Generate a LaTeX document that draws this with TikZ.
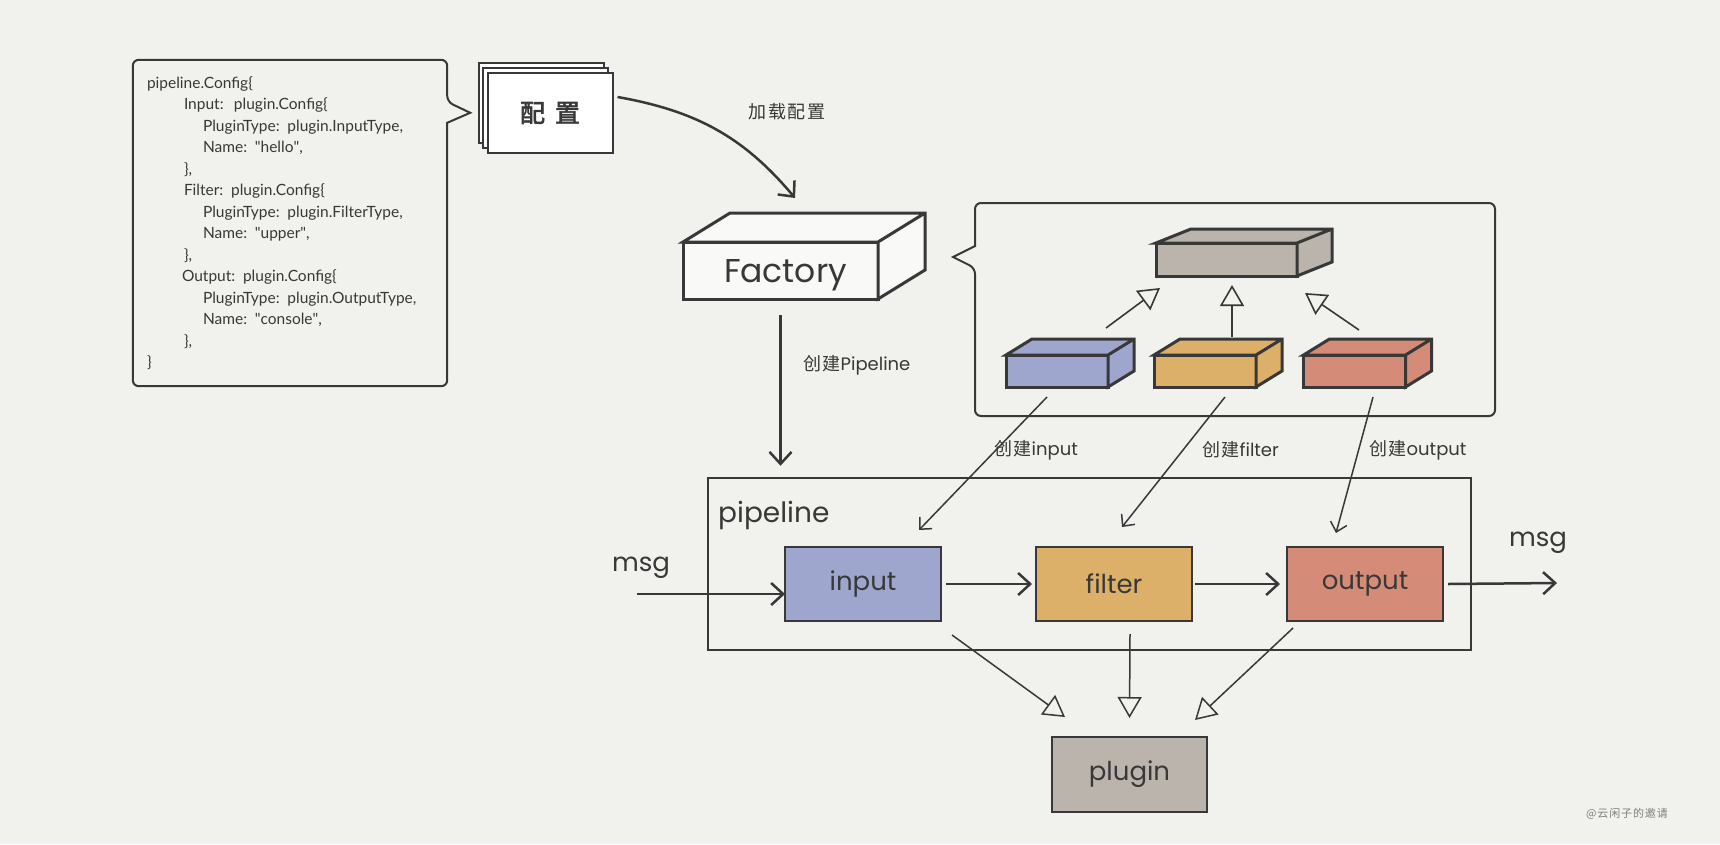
\documentclass[tikz,border=0pt]{standalone}
\usepackage{fontspec}
\setmainfont{Lato}
\newfontfamily\hand{Poppins}
\newfontfamily\cjk[LetterSpace=8]{Noto Sans CJK SC}
\newfontfamily\cjkbold[FakeBold=2.5]{Noto Sans CJK SC}
\usetikzlibrary{arrows.meta}
\usetikzlibrary{positioning}

\definecolor{paper}{HTML}{F1F1ED}
\definecolor{ink}{HTML}{383838}
\definecolor{inblue}{HTML}{9FA6CE}
\definecolor{florange}{HTML}{DDB069}
\definecolor{outred}{HTML}{D48B78}
\definecolor{pluggray}{HTML}{BBB4AC}

\begin{document}
\begin{tikzpicture}[x=1pt, y=1pt, color=ink]
\tikzset{
   node distance = 251pt, >={Straight Barb[length=12pt, width=22pt]},
   stage/.style = {rectangle, draw, line width=2.5pt, minimum width=156pt, minimum height=74pt, outer sep=0pt, font=\hand\fontsize{26}{30}\selectfont},
   face/.style = {rectangle, draw, line width=3pt, outer sep=0pt},
   sheet/.style = {rectangle, draw, fill=white, line width=2pt, minimum width=125pt, minimum height=80pt},
   flow/.style = {->, line width=2.5pt},
   create/.style = {->, line width=1.5pt, >={Straight Barb[length=9pt, width=17pt]}},
   inherit/.style = {-{Triangle[open, length=21pt, width=24pt]}, line width=1.6pt},
   tag/.style = {font=\cjk\fontsize{18}{20}\selectfont, inner sep=0pt},
   word/.style = {font=\hand\fontsize{26}{30}\selectfont, inner sep=0pt}
}
  \useasboundingbox (0,0) rectangle (1720,-844);
  \fill [paper] (0,0) rectangle (1720,-844);

  % config text and its callout
  \node [rectangle, minimum width=314pt, minimum height=326pt, text width=286pt, inner xsep=14pt, align=left,
         font=\fontsize{15.5}{21.5}\selectfont] (cfg) at (290,-223)
        {pipeline.Config\{\\
         \hspace*{37pt}Input:\ \ plugin.Config\{\\
         \hspace*{56pt}PluginType: plugin.InputType,\\
         \hspace*{56pt}Name: \textquotedbl hello\textquotedbl,\\
         \hspace*{37pt}\},\\
         \hspace*{37pt}Filter: plugin.Config\{\\
         \hspace*{56pt}PluginType: plugin.FilterType,\\
         \hspace*{56pt}Name: \textquotedbl upper\textquotedbl,\\
         \hspace*{37pt}\},\\
         \hspace*{35pt}Output: plugin.Config\{\\
         \hspace*{56pt}PluginType: plugin.OutputType,\\
         \hspace*{56pt}Name: \textquotedbl console\textquotedbl,\\
         \hspace*{37pt}\},\\
         \}};
  \draw [line width=2pt, rounded corners=6pt] (cfg.north west) -- (cfg.north east) -- ([yshift=-42pt]cfg.north east)
        [sharp corners] -- ++(23,-11) -- ++(-23,-10) [rounded corners=6pt] -- (cfg.south east) -- (cfg.south west) -- cycle;

  % stacked sheets
  \foreach \d in {2,1}
    \node [sheet] at (550-4.5*\d, -113+5*\d) {};
  \node [sheet, font=\cjkbold\fontsize{25}{27}\selectfont] (conf) at (550,-113) {配\hspace{10pt}置};

  % factory
  \node [face, minimum width=195pt, minimum height=57pt, fill=white!60!paper,
         font=\hand\fontsize{33}{36}\selectfont, text depth=0pt] (fac) at (780.5,-270.5) {\hspace{10pt}Factory};

  % plugin types
  \node [rectangle, minimum width=520pt, minimum height=213pt, outer sep=0pt] (types) at (1235,-309.5) {};
  \draw [line width=2pt, rounded corners=6pt] (types.north west) -- (types.north east) -- (types.south east)
        -- (types.south west) -- ([yshift=-65pt]types.north west) [sharp corners] -- ++(-22,11) -- ++(22,11)
        [rounded corners=6pt] -- cycle;
  \node [face, fill=pluggray, minimum width=141pt, minimum height=33pt] (iface) at (1226.5,-259.5) {};
  \node [face, fill=inblue, minimum width=102pt, minimum height=32pt] (impl_in) at (1057,-371) {};
  \node [face, fill=florange, minimum width=102pt, minimum height=32pt, node distance=148pt] (impl_fl) [right of=impl_in] {};
  \node [face, fill=outred, minimum width=102pt, minimum height=32pt, node distance=149.5pt] (impl_out) [right of=impl_fl] {};
  \foreach \n/\c/\dx/\dy in {fac/white!60!paper/47/29, iface/pluggray/35/14, impl_in/inblue/26/16,
                            impl_fl/florange/26/16, impl_out/outred/26/16}
    \draw [line width=3pt, fill=\c] (\n.north west) -- ++(\dx,\dy) -- ([shift={(\dx,\dy)}]\n.north east)
          -- ([shift={(\dx,\dy)}]\n.south east) -- (\n.south east) -- (\n.north east) -- cycle
          (\n.north east) -- ++(\dx,\dy);

  \draw [inherit] ([shift={(-2,27)}]impl_in.north east) -- ([shift={(4,-12)}]iface.south west);
  \draw [inherit] ([shift={(27,18)}]impl_fl.north) -- ([shift={(5.5,-9)}]iface.south);
  \draw [inherit] ([shift={(4.5,25)}]impl_out.north) -- ([shift={(8,-17)}]iface.south east);

  % pipeline
  \node [rectangle, draw, line width=2.5pt, minimum width=763pt, minimum height=172pt] (pipe) at (1089.5,-564) {};
  \node [word, anchor=west, font=\hand\fontsize{28}{30}\selectfont] (pipe_label) at (718,-515) {pipeline};
  \node [stage, fill=inblue] (input) at (863,-584) {input};
  \node [stage, fill=florange] (filter) [right of=input] {filter};
  \node [stage, fill=outred] (output) [right of=filter] {output};
  \node [stage, fill=pluggray, minimum width=155pt, minimum height=75pt] (plugin) at (1129.5,-774.5) {plugin};

  % loading and creating
  \draw [flow] ([shift={(4,-25)}]conf.north east) to [out=-10, in=130] ([shift={(14.5,44)}]fac.north);
  \node [tag] (load) at (787,-112) {加载配置};
  \coordinate (pipe_top) at ([yshift=11pt]pipe.north);
  \draw [flow] ([yshift=-16pt]fac.south) -- (pipe_top -| fac.south);
  \node [tag, anchor=west] (mk_pipe) at (803,-365) {创建{\hand Pipeline}};

  \draw [create] ([shift={(-10,-10)}]impl_in.south) -- ([shift={(56,17)}]input.north);
  \draw [create] ([shift={(20,-10)}]impl_fl.south) -- ([shift={(8,20)}]filter.north);
  \draw [create] ([shift={(18.5,-10)}]impl_out.south) -- ([shift={(-29,14)}]output.north);
  \node [tag, anchor=west] (mk_in) at (994,-450) {创建{\hand input}};
  \node [tag, anchor=west] (mk_fl) at (1202,-450) {创建{\hand filter}};
  \node [tag, anchor=west] (mk_out) at (1369,-450) {创建{\hand output}};

  % message flow
  \coordinate (msg_in) at (637,-594);
  \coordinate (msg_out) at (1557,-583);
  \node [word] (msg_l) at (641,-568) {msg};
  \node [word] (msg_r) at (1538,-543) {msg};
  \draw [flow] (msg_in) -- (msg_in -| input.west);
  \draw [flow] ([xshift=5pt]input.east) -- ([xshift=-4pt]filter.west);
  \draw [flow] ([xshift=3pt]filter.east) -- ([xshift=-7pt]output.west);
  \draw [flow] ([xshift=5pt]output.east) -- (msg_out);

  % all stages are plugins
  \draw [inherit, line width=1.5pt] ([shift={(89,-14)}]input.south) -- ([shift={(13,20)}]plugin.north west);
  \draw [inherit, line width=1.5pt] ([shift={(16,-13)}]filter.south) -- ([yshift=19pt]plugin.north);
  \draw [inherit, line width=1.5pt] ([shift={(-72,-7)}]output.south) -- ([shift={(-12,17)}]plugin.north east);

  \node [font=\cjk\fontsize{11}{12}\selectfont, text=ink!65] (sign) at (1627,-814) {@云闲子的邀请};
\end{tikzpicture}
\end{document}
